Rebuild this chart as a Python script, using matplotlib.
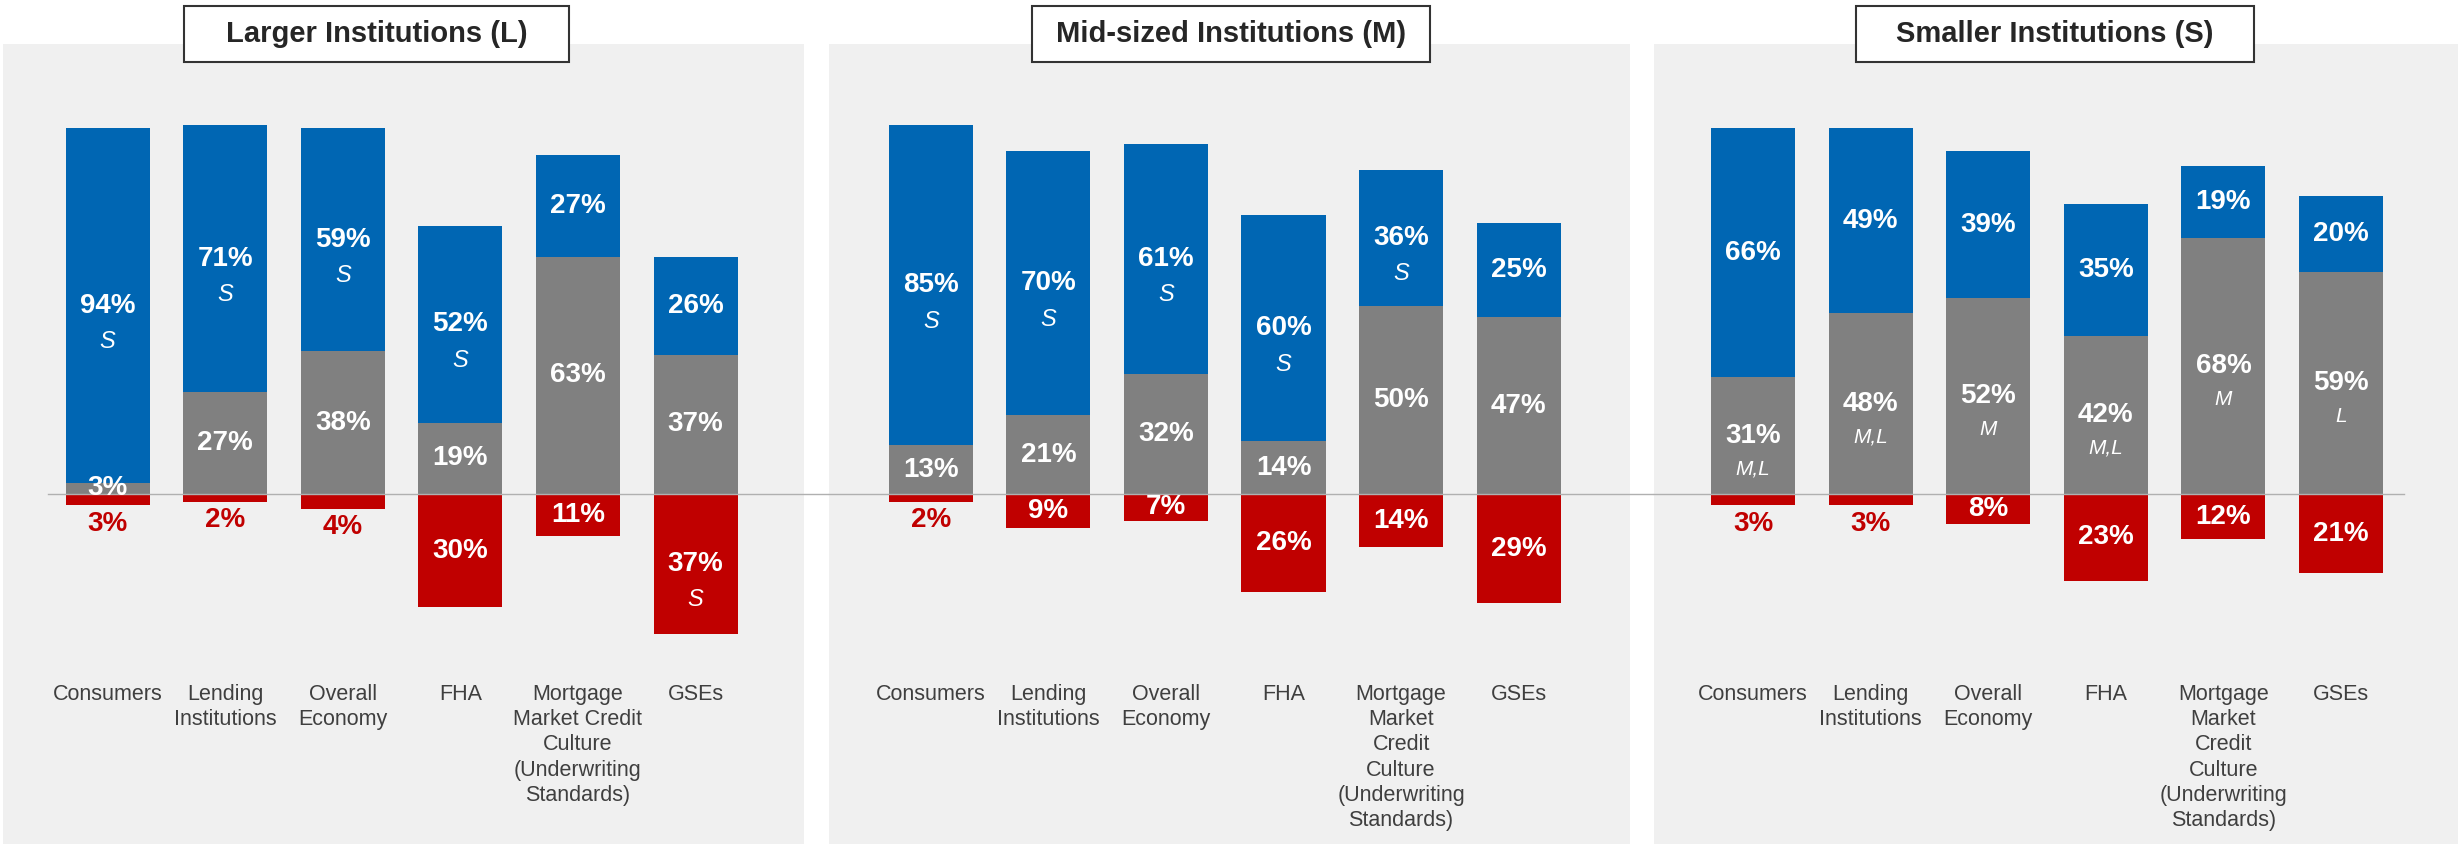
import numpy as np
import matplotlib
matplotlib.use("Agg")
import matplotlib.pyplot as plt
from matplotlib.patches import Rectangle

plt.rcParams['font.family'] = ['Liberation Sans', 'DejaVu Sans']

BLUE = "#0066b3"
GREY = "#808080"
RED = "#c00000"
PANEL_BG = "#f0f0f0"
TEXT = "#3f3f3f"

titles = ["Larger Institutions (L)", "Mid-sized Institutions (M)", "Smaller Institutions (S)"]

cats_l = ["Consumers", "Lending\nInstitutions", "Overall\nEconomy", "FHA",
          "Mortgage\nMarket Credit\nCulture\n(Underwriting\nStandards)", "GSEs"]
cats_ms = ["Consumers", "Lending\nInstitutions", "Overall\nEconomy", "FHA",
           "Mortgage\nMarket\nCredit\nCulture\n(Underwriting\nStandards)", "GSEs"]

# grey sits on zero, blue stacked on top, red hangs below zero
grey_l = [3, 27, 38, 19, 63, 37]
blue_l = [94, 71, 59, 52, 27, 26]
red_l = [3, 2, 4, 30, 11, 37]

grey_m = [13, 21, 32, 14, 50, 47]
blue_m = [85, 70, 61, 60, 36, 25]
red_m = [2, 9, 7, 26, 14, 29]

grey_s = [31, 48, 52, 42, 68, 59]
blue_s = [66, 49, 39, 35, 19, 20]
red_s = [3, 3, 8, 23, 12, 21]

# significance notes shown under the percentages
blue_note_l = ["S", "S", "S", "S", "", ""]
grey_note_l = ["", "", "", "", "", ""]
red_note_l = ["", "", "", "", "", "S"]

blue_note_m = ["S", "S", "S", "S", "S", ""]
grey_note_m = ["", "", "", "", "", ""]
red_note_m = ["", "", "", "", "", ""]

blue_note_s = ["", "", "", "", "", ""]
grey_note_s = ["M,L", "M,L", "M", "M,L", "M", "L"]
red_note_s = ["", "", "", "", "", ""]

panels = [
    (cats_l, grey_l, blue_l, red_l, grey_note_l, blue_note_l, red_note_l),
    (cats_ms, grey_m, blue_m, red_m, grey_note_m, blue_note_m, red_note_m),
    (cats_ms, grey_s, blue_s, red_s, grey_note_s, blue_note_s, red_note_s),
]

W, H = 2458, 844
fig = plt.figure(figsize=(W / 100, H / 100), dpi=100)

# pixel boxes of the grey panels and the title frames
panel_px = [(3, 44, 804, 844), (829, 44, 1630, 844), (1654, 44, 2458, 844)]
title_px = [(184, 6, 569, 62), (1032, 6, 1430, 62), (1856, 6, 2254, 62)]
x_left = [-0.889, -0.865, -0.842]
zero_span = [(48, 829), (829, 1654), (1654, 2404)]
note_size = [17, 17, 15]
note_gap = [26, 26, 24]
unit_px = 117.6
width = 0.715
ylim = (-92.8, 119.4)


def label(ax, x, y, txt, note, color="white", nsize=17, ngap=26):
    ax.text(x, y, txt, ha="center", va="center", fontsize=20, fontweight="bold",
            color=color, zorder=5)
    if note:
        ax.annotate(note, (x, y), xytext=(0, -ngap), textcoords="offset points",
                    ha="center", va="center", fontsize=nsize, fontstyle="italic",
                    color=color, zorder=5)


for i, (cats, grey, blue, red, gnote, bnote, rnote) in enumerate(panels):
    l, t, r, b = panel_px[i]
    ax = fig.add_axes([l / W, 1 - b / H, (r - l) / W, (b - t) / H])
    ax.set_facecolor(PANEL_BG)
    for s in ax.spines.values():
        s.set_visible(False)
    ax.set_xticks([])
    ax.set_yticks([])
    ax.set_xlim(x_left[i], x_left[i] + (r - l) / unit_px)
    ax.set_ylim(*ylim)

    x = np.arange(len(cats))
    grey = np.array(grey)
    blue = np.array(blue)
    red = np.array(red)
    ax.bar(x, grey, width, color=GREY, zorder=2)
    ax.bar(x, blue, width, bottom=grey, color=BLUE, zorder=2)
    ax.bar(x, -red, width, color=RED, zorder=2)

    z0, z1 = zero_span[i]
    ax.axhline(0, (z0 - l) / (r - l), (z1 - l) / (r - l), color="#b0b0b0",
               lw=1.0, zorder=3, clip_on=False)

    kw = dict(nsize=note_size[i], ngap=note_gap[i])
    for j in range(len(cats)):
        label(ax, x[j], grey[j] / 2, f"{grey[j]}%", gnote[j], **kw)
        label(ax, x[j], grey[j] + blue[j] / 2, f"{blue[j]}%", bnote[j], **kw)
        if red[j] < 5:
            label(ax, x[j], -red[j] - 4.8, f"{red[j]}%", rnote[j], color=RED, **kw)
        else:
            label(ax, x[j], -red[j] / 2, f"{red[j]}%", rnote[j], **kw)
        ax.text(x[j], -50.4, cats[j], ha="center", va="top", fontsize=15.5,
                color=TEXT, linespacing=1.26)

    tl, tt, tr, tb = title_px[i]
    fig.patches.append(Rectangle((tl / W, 1 - tb / H), (tr - tl) / W, (tb - tt) / H,
                                 transform=fig.transFigure, facecolor="white",
                                 edgecolor="#333333", lw=1.5, zorder=10))
    fig.text((tl + tr) / 2 / W, 1 - (tt + tb) / 2 / H, titles[i], ha="center",
             va="center", fontsize=21, fontweight="bold", color="#262626", zorder=11)

fig.savefig("out.png", dpi=100)
